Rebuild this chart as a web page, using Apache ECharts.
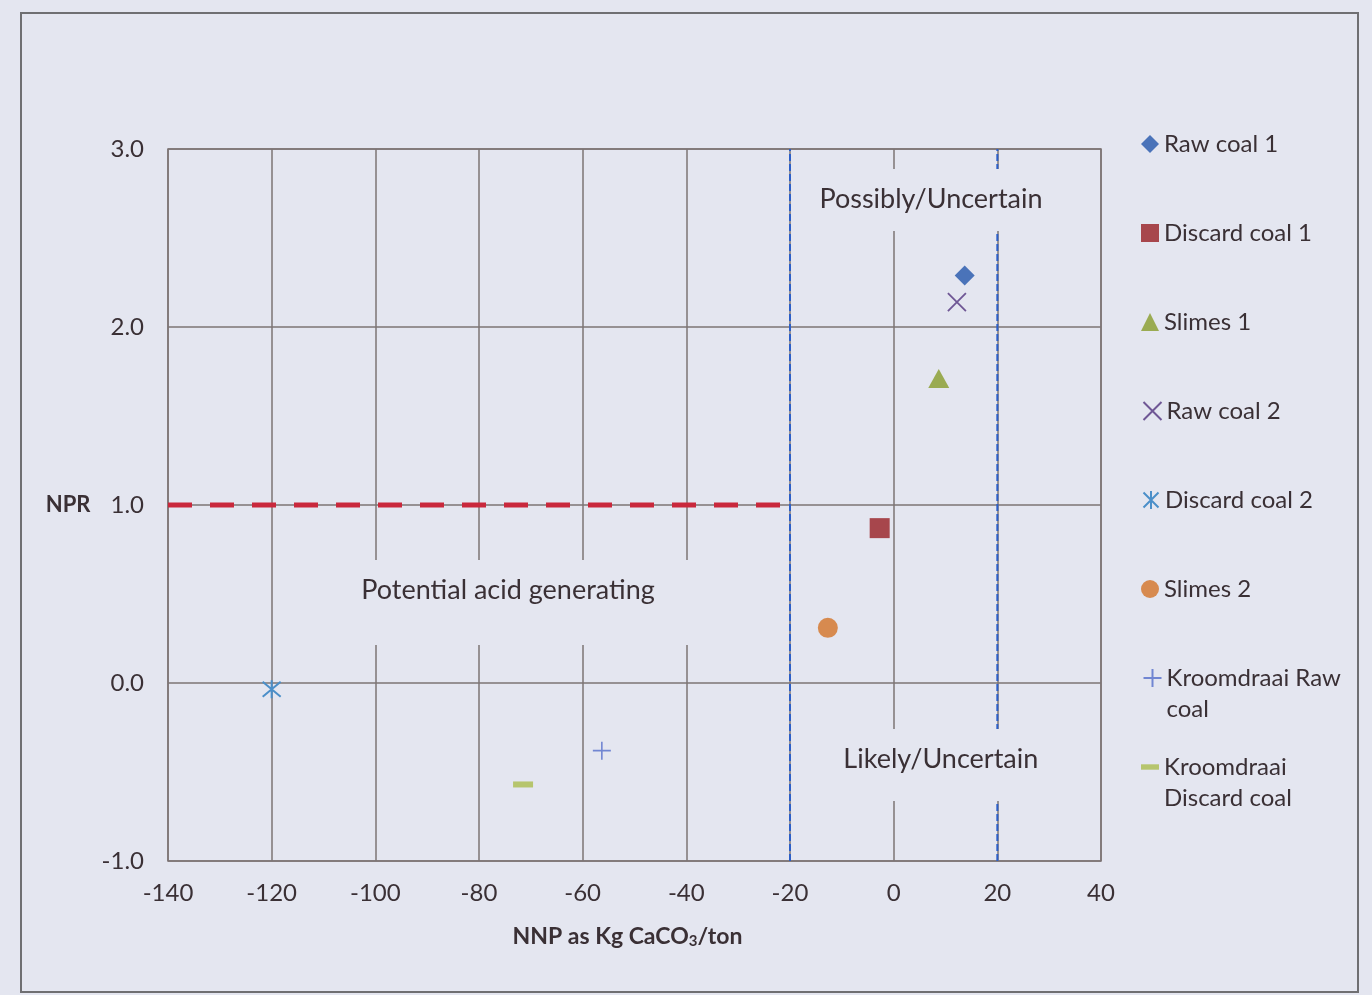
<!DOCTYPE html>
<html>
<head>
<meta charset="utf-8">
<script src="https://cdn.jsdelivr.net/npm/echarts@6/dist/echarts.min.js"></script>
<style>
  html, body { margin: 0; padding: 0; background: #e4e6f0; }
  #chart { width: 1372px; height: 995px; }
</style>
</head>
<body>
<div id="chart"></div>
<script>
// NNP (kg CaCO3/ton) against NPR for each sample
const rawCoal1 = [[13.7, 2.29]];
const discardCoal1 = [[-2.7, 0.87]];
const slimes1 = [[8.7, 1.71]];
const rawCoal2 = [[12.2, 2.14]];
const discardCoal2 = [[-120, -0.035]];
const slimes2 = [[-12.7, 0.31]];
const kroomdraaiRawCoal = [[-56.3, -0.38]];
const kroomdraaiDiscardCoal = [[-71.5, -0.57]];

// NPR = 1 threshold and the NNP = ±20 band edges
const nprThreshold = [[-140, 1], [-20, 1]];
const nnpLower = [[-20, -1], [-20, 3]];
const nnpUpper = [[20, -1], [20, 3]];

// classification zone captions: [NNP, NPR, text]
const zoneLabels = [
  [7.2, 2.713, 'Possibly/Uncertain'],
  [-74.4, 0.452, 'Potential acid generating'],
  [9.1, -0.46, 'Likely/Uncertain']
];

const xTicks = { min: -140, max: 40, step: 20 };
const yTicks = { min: -1, max: 3, step: 1 };

const seriesNames = ['Raw coal 1', 'Discard coal 1', 'Slimes 1', 'Raw coal 2',
  'Discard coal 2', 'Slimes 2', 'Kroomdraai Raw coal', 'Kroomdraai Discard coal'];
const wrappedNames = {
  'Kroomdraai Raw coal': '\nKroomdraai Raw\ncoal',
  'Kroomdraai Discard coal': '\nKroomdraai\nDiscard coal'
};
const legendIcons = {
  'Kroomdraai Discard coal': 'path://M0,0L20,0L20,6L0,6Z'
};

const FONT = 'Lato';
const INK = '#3a3035';
const PAPER = '#e4e6f0';
const GRID = '#7d7474';

const chart = echarts.init(document.getElementById('chart'), null, { renderer: 'canvas' });

function scatter(name, data, symbol, size, style) {
  return {
    name, type: 'scatter', data, symbol, symbolSize: size, z: 4,
    itemStyle: Object.assign({ opacity: 1 }, style),
    emphasis: { disabled: true }
  };
}

// caption boxes: blank space kept below each caption, and side padding
const captionBox = {
  'Possibly/Uncertain': { below: 2, side: 8 },
  'Potential acid generating': { below: 25, side: 38 },
  'Likely/Uncertain': { below: 12, side: 10 }
};

const option = {
  animation: false,
  backgroundColor: PAPER,
  textStyle: { fontFamily: FONT, color: INK },
  graphic: [{
    type: 'rect', silent: true, z: -1,
    shape: { x: 21, y: 13, width: 1337, height: 979 },
    style: { fill: 'none', stroke: '#6f6f72', lineWidth: 2 }
  }],
  grid: {
    left: 168, right: 271, top: 149, bottom: 134,
    show: true, borderColor: GRID, borderWidth: 1.5, backgroundColor: 'transparent'
  },
  legend: seriesNames.map((name, i) => {
    const wrapped = wrappedNames[name];
    const item = legendIcons[name] ? { name, icon: legendIcons[name] } : name;
    return {
      orient: 'vertical',
      left: 1141,
      top: 144 + i * 89 - (wrapped ? 46.5 : 15.5),
      padding: 0,
      itemWidth: 18,
      itemHeight: 18,
      selectedMode: false,
      data: [item],
      formatter: wrapped || name,
      textStyle: { fontFamily: FONT, fontSize: 24, color: INK, lineHeight: 31 }
    };
  }),
  xAxis: {
    type: 'value', min: xTicks.min, max: xTicks.max, interval: xTicks.step,
    name: '{b|NNP as Kg CaCO}{s|3}{b|/ton}',
    nameLocation: 'middle', nameGap: 63,
    nameTextStyle: {
      padding: [0, 14, 0, 0],
      rich: {
        b: { fontFamily: FONT, fontSize: 23, fontWeight: 'bold', color: INK },
        s: { fontFamily: FONT, fontSize: 15, fontWeight: 'bold', color: INK, verticalAlign: 'bottom', padding: [10, 0, 0, 0] }
      }
    },
    axisLine: { show: false }, axisTick: { show: false },
    axisLabel: { margin: 20, fontFamily: FONT, fontSize: 24, color: INK },
    splitLine: { show: true, lineStyle: { color: GRID, width: 1.5 } }
  },
  yAxis: {
    type: 'value', min: yTicks.min, max: yTicks.max, interval: yTicks.step,
    axisLine: { show: false }, axisTick: { show: false },
    axisLabel: {
      margin: 24, fontFamily: FONT, fontSize: 24, color: INK,
      formatter: v => v === 1 ? '{npr|NPR}{v|1.0}' : '{v|' + v.toFixed(1) + '}',
      rich: {
        npr: { fontFamily: FONT, fontSize: 22, fontWeight: 'bold', color: INK, padding: [0, 20, 0, 0] },
        v: { fontFamily: FONT, fontSize: 24, color: INK }
      }
    },
    splitLine: { show: true, lineStyle: { color: GRID, width: 1.5 } }
  },
  series: [
    scatter('Raw coal 1', rawCoal1, 'diamond', 20, { color: '#4a73b9' }),
    scatter('Discard coal 1', discardCoal1, 'rect', 20, { color: '#a7464c' }),
    scatter('Slimes 1', slimes1, 'triangle', [21, 19], { color: '#9aab52' }),
    scatter('Raw coal 2', rawCoal2, 'path://M0,0L10,10M10,0L0,10', 18,
      { color: 'none', borderColor: '#6f5795', borderWidth: 1.8 }),
    scatter('Discard coal 2', discardCoal2, 'path://M0,0L10,10M10,0L0,10M5,-1L5,11', 18,
      { color: 'none', borderColor: '#4b8fc9', borderWidth: 2 }),
    scatter('Slimes 2', slimes2, 'circle', 20, { color: '#d78a4f' }),
    scatter('Kroomdraai Raw coal', kroomdraaiRawCoal, 'path://M5,0L5,10M0,5L10,5', 18,
      { color: 'none', borderColor: '#7186d2', borderWidth: 1.6 }),
    scatter('Kroomdraai Discard coal', kroomdraaiDiscardCoal, 'rect', [20, 6], { color: '#b6c56d' }),
    {
      name: 'NPR threshold', type: 'line', data: nprThreshold, symbol: 'none', z: 3,
      lineStyle: { color: '#c9283c', width: 5, type: [24, 18] }, silent: true
    },
    {
      name: 'NNP -20', type: 'line', data: nnpLower, symbol: 'none', z: 3,
      lineStyle: { color: '#2c5fc8', width: 2, type: [7, 3] }, silent: true
    },
    {
      name: 'NNP 20', type: 'line', data: nnpUpper, symbol: 'none', z: 3,
      lineStyle: { color: '#2c5fc8', width: 2, type: [7, 3] }, silent: true
    },
    {
      name: 'zones', type: 'scatter', z: 6, silent: true,
      symbolSize: 0, itemStyle: { color: 'transparent', opacity: 1 },
      data: zoneLabels.map(d => {
        const box = captionBox[d[2]];
        return {
          value: [d[0], d[1]], name: d[2],
          label: {
            padding: [15, box.side, 15, box.side],
            rich: {
              t: { fontFamily: FONT, fontSize: 27, color: INK, lineHeight: 30 },
              g: { fontSize: 1, height: box.below, lineHeight: box.below }
            }
          }
        };
      }),
      label: {
        show: true, position: 'inside',
        formatter: '{t|{b}}\n{g| }',
        backgroundColor: PAPER
      }
    }
  ]
};

chart.setOption(option);
</script>
</body>
</html>
